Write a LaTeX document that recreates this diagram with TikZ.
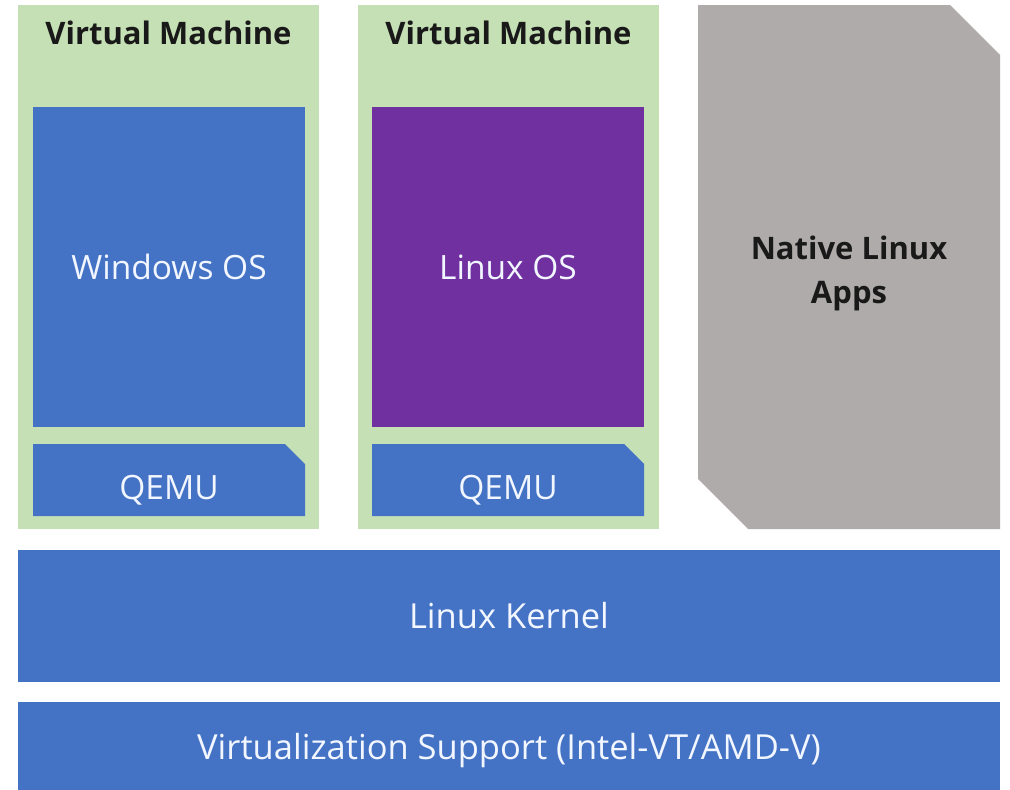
\documentclass[tikz,border=0pt]{standalone}
\usepackage{fontspec}
\setmainfont{Open Sans}
\usetikzlibrary{shapes.misc}
\definecolor{vmgreen}{HTML}{C5E0B4}
\definecolor{osblue}{HTML}{4472C4}
\definecolor{ospurple}{HTML}{7030A0}
\definecolor{appgrey}{HTML}{AFABAB}
\definecolor{labelwhite}{HTML}{F2F6FF}
\tikzset{
  vmbox/.style={rectangle, fill=vmgreen, inner sep=0pt, outer sep=0pt,
    minimum width=301pt, minimum height=524pt},
  osbox/.style={rectangle, inner sep=0pt, outer sep=0pt, text=labelwhite,
    minimum width=272pt, minimum height=320pt, font=\fontsize{33.5}{40}\selectfont},
  qemubox/.style={chamfered rectangle, chamfered rectangle corners=north east,
    chamfered rectangle xsep=10pt, chamfered rectangle ysep=10pt,
    fill=osblue, inner sep=0pt, outer sep=0pt, text=labelwhite,
    text height=38pt, text depth=0pt,
    minimum width=272pt, minimum height=72pt, font=\fontsize{33.5}{40}\selectfont},
  layerbox/.style={rectangle, fill=osblue, inner sep=0pt, outer sep=0pt, text=labelwhite,
    minimum width=982pt, font=\fontsize{34.5}{40}\selectfont},
  titletext/.style={font=\fontsize{31}{44}\selectfont\bfseries, text=black!90}
}
\begin{document}
\begin{tikzpicture}[x=1pt, y=-1pt]
  % page frame
  \fill[white] (0,0) rectangle (1010,790);

  % two virtual machines
  \node[vmbox] (vm1) at (168.5,267) {};
  \node[vmbox] (vm2) at (508.5,267) {};
  \node[titletext] (vm1title) at (168.5,33) {Virtual Machine};
  \node[titletext] (vm2title) at (508.5,33) {Virtual Machine};

  \node[osbox, fill=osblue] (winos) at (169,267) {Windows OS};
  \node[osbox, fill=ospurple] (linuxos) at (508,267) {Linux OS};
  \node[qemubox] (qemu1) at (169,480) {QEMU};
  \node[qemubox] (qemu2) at (508,480) {QEMU};

  % native apps, two corners cut
  \fill[appgrey] (698,5) -- (950,5) -- (1000,55) -- (1000,529)
    -- (748,529) -- (698,479) -- cycle;
  \node[titletext, align=center] (appstext) at (849,273) {Native Linux\\Apps};

  % host layers
  \node[layerbox, minimum height=132pt] (kernel) at (509,616) {Linux Kernel};
  \node[layerbox, minimum height=88pt, text height=26pt, text depth=0pt] (virt) at (509,746) {Virtualization Support (Intel-VT/AMD-V)};
\end{tikzpicture}
\end{document}
